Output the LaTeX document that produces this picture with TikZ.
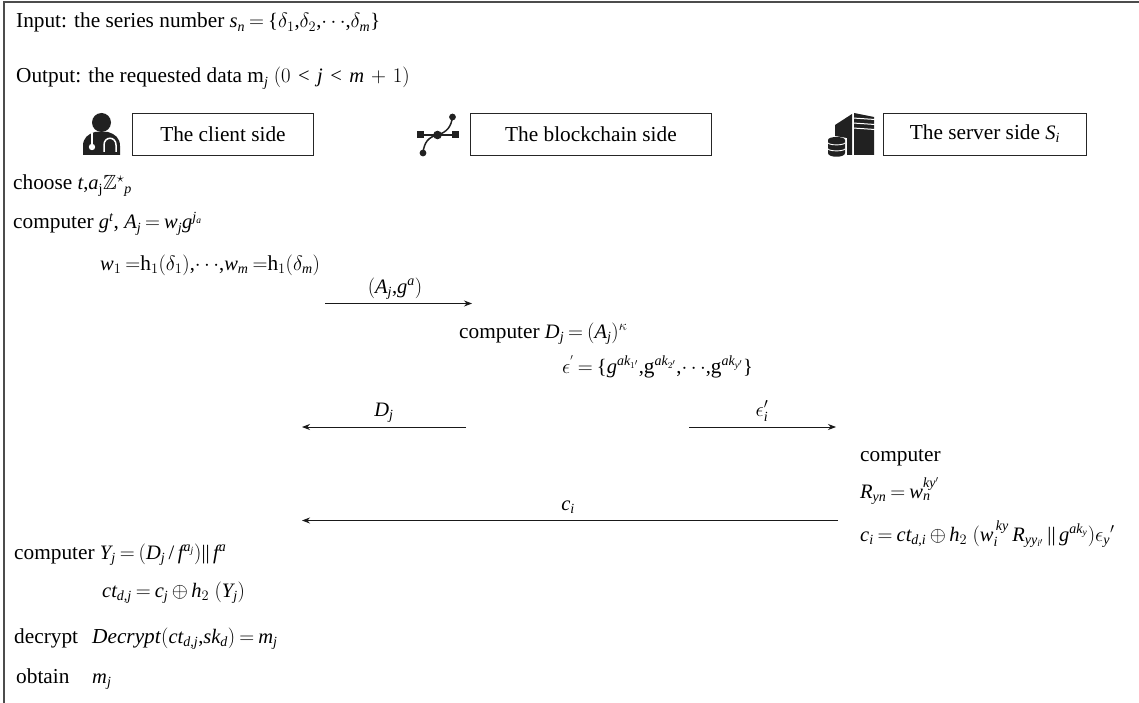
\documentclass[tikz,border=0pt]{standalone}
\usepackage{amsmath, amssymb}
\usepackage{fontspec}
\setmainfont{Liberation Serif}
\usepackage[italic]{mathastext}
\usepackage{tikz}
\usetikzlibrary{calc, positioning, arrows.meta}
\DeclareMathSizes{21.3}{20.5}{14}{9.5}

\begin{document}
\begin{tikzpicture}[x=1pt, y=-1pt, >={Stealth[length=8pt, width=6pt]},
    txt/.style={anchor=base west, inner sep=0pt, font=\fontsize{21.3}{24}\selectfont},
    lbl/.style={anchor=base, inner sep=0pt, font=\fontsize{21.3}{24}\selectfont},
    sidebox/.style={draw=black!85, line width=0.9pt, minimum width=#1, minimum height=42pt, inner sep=0pt, anchor=west, font=\fontsize{21.3}{24}\selectfont},
    msg/.style={->, black!90, line width=0.8pt},
    icon/.style={fill=black!87, draw=none}]
    \useasboundingbox (0,0) rectangle (1139,703);
    \thickmuskip=3.5mu
    \medmuskip=3mu

    % 1. Outer frame
    \draw[black!70, line width=1.2pt] (4,703) -- (4,2) -- (1139,2);

    % 2. Input and output
    \node[txt] (input) at (16,28) {Input: the series number $s_n = \{\delta_1{,}\delta_2{,}{\cdots}{,}\delta_m\}$};
    \node[txt] (output) at (16,83) {Output: the requested data m$_j$ $(0 \,<\, j \,<\, m \,+\, 1)$};

    % 3. The three sides with their icons
    \node[sidebox=181pt] (client) at (132,134) {The client side};
    \node[sidebox=241pt] (chain) at (470,134) {The blockchain side};
    \node[sidebox=203pt] (server) at (883,134) {The server side $S_i$};

    % client icon
    \fill[icon] (101.5,122.5) circle (9.5);
    \fill[icon] (83,155) -- (83,146) .. controls (83,138) and (88,134) .. (95,132) -- (108,132)
        .. controls (115,134) and (120,138) .. (120,146) -- (120,155) -- cycle;
    \draw[white, line width=1.5pt] (92,133) -- (92,146);
    \fill[white] (92,147) circle (3.2);
    \draw[white, line width=1.5pt] (104,152) -- (104,145) .. controls (104,136) and (116,136) .. (116,145) -- (116,152);

    % blockchain icon
    \draw[black!87, line width=1.5pt] (420,135) -- (455,135);
    \fill[icon] (416.5,131.5) rectangle (423.5,138.5);
    \fill[icon] (451.5,131.5) rectangle (458.5,138.5);
    \fill[icon] (437.5,135) circle (4.3);
    \draw[black!87, line width=1.5pt] (437.5,135) .. controls (447,132) and (451,127) .. (452.5,117);
    \draw[black!87, line width=1.5pt] (437.5,135) .. controls (428,137) and (424,143) .. (423,153);
    \fill[icon] (452.5,117) circle (3.4);
    \fill[icon] (423,153) circle (3.4);

    % server icon
    \fill[icon] (835,125) -- (852,114) -- (852,155) -- (847,155) -- (847,138) -- (835,136) -- cycle;
    \fill[icon] (854,113) -- (874,117) -- (874,155) -- (854,155) -- cycle;
    \foreach \y in {118,123,128} {
        \draw[white, line width=1pt] (853,\y) -- (875,\y+1.5);
    }
    \fill[icon] (828,140) .. controls (828,136) and (845,136) .. (845,140) -- (845,153)
        .. controls (845,158) and (828,158) .. (828,153) -- cycle;
    \foreach \y in {143,149} {
        \draw[white, line width=0.9pt] (828,\y) .. controls (830,\y+2.5) and (843,\y+2.5) .. (845,\y);
    }

    % 4. Client side, first part
    \node[txt] (choose) at (13,190) {choose $t{,}a_{\mathrm{j}}\mathbb{Z}^{\star}{}_{p}$};
    \node[txt] (compg) at (13,229) {computer $g^t$, $A_j = w_j g^{j_a}$};
    \node[txt] (hash) at (100,270) {$w_1 =$h$_1(\delta_1){,}{\cdots}{,}w_m =$h$_1(\delta_m)$};

    % 5. Blockchain side
    \node[txt] (compd) at (459,338) {computer $D_j = (A_j)^{\kappa}$};
    \node[txt] (epsset) at (562,373) {$\epsilon^{'} = \{g^{ak_{1'}}{,}$g$^{ak_{2'}}{,}{\cdots}{,}$g$^{ak_{y'}}\}$};

    % 6. Server side
    \node[txt] (compr) at (860,461) {computer};
    \node[txt] (ryn) at (860,498) {$R_{yn} = w_n^{ky'}$};
    \node[txt] (ci) at (860,541) {$c_i = ct_{d,i} \oplus h_2\ (w_i^{\,ky}\, R_{yy_{i'}} \,||\, g^{ak_y})\epsilon_{y}{}'$};

    % 7. Client side, second part
    \node[txt] (compy) at (14,559) {computer $Y_j = (D_j\,/\,f^{a_j})||\,f^a$};
    \node[txt] (ctd) at (102,597) {$ct_{d,j} = c_j \oplus h_2\ (Y_j)$};
    \node[txt] (decr) at (14,643) {decrypt};
    \node[txt] (decrf) at (92,643) {\textit{Decrypt}$(ct_{d,j}{,}sk_d) = m_j$};
    \node[txt] (obtain) at (16,683) {obtain};
    \node[txt] (mj) at (92,683) {$m_j$};

    % 8. Messages
    \coordinate (a1) at (325,303.5);
    \coordinate (a2) at (472,303.5);
    \coordinate (b1) at (466,427);
    \coordinate (b2) at (302,427);
    \coordinate (e1) at (689,427);
    \coordinate (e2) at (836,427);
    \coordinate (c1) at (838,520.5);
    \coordinate (c2) at (302,520.5);

    \draw[msg] (a1) -- (a2);
    \draw[msg] (b1) -- (b2);
    \draw[msg] (e1) -- (e2);
    \draw[msg] (c1) -- (c2);

    \node[lbl] (la) at (395,293) {$(A_j{,}g^a)$};
    \node[lbl] (lb) at (384,416) {$D_j$};
    \node[lbl] (le) at (762,416) {$\epsilon_i'$};
    \node[lbl] (lc) at (568,510) {$c_i$};
\end{tikzpicture}
\end{document}
